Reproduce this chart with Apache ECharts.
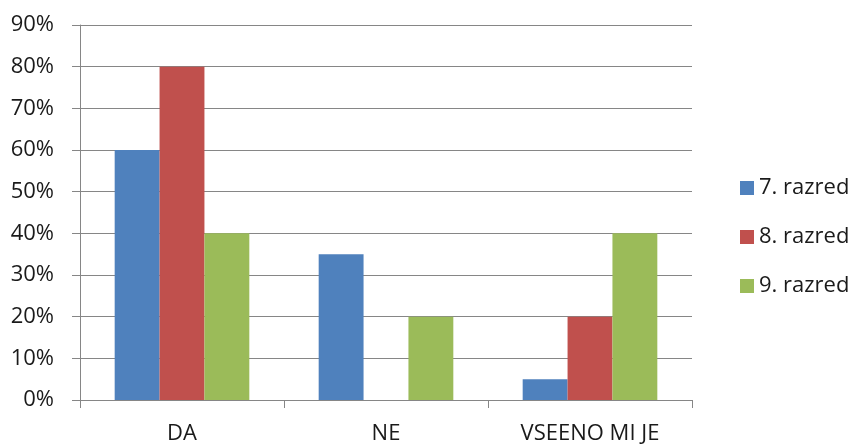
<!DOCTYPE html>
<html>
<head>
<meta charset="utf-8">
<script src="https://cdn.jsdelivr.net/npm/echarts@6/dist/echarts.min.js"></script>
<style>
  html, body { margin: 0; padding: 0; background: #fff; }
  #main { width: 853px; height: 445px; }
</style>
</head>
<body>
<div id="main"></div>
<script>
var categories = ['DA', 'NE', 'VSEENO MI JE'];
var seriesNames = ['7. razred', '8. razred', '9. razred'];
var razred7 = [60, 35, 5];
var razred8 = [80, 0, 20];
var razred9 = [40, 20, 40];
var colors = ['#4F81BD', '#C0504D', '#9BBB59'];

var font = '"Open Sans", "Liberation Sans", sans-serif';
var myChart = echarts.init(document.getElementById('main'));
var option = {
    animation: false,
    color: colors,
    textStyle: { fontFamily: font },
    grid: { left: 80, right: 161, top: 25, bottom: 45, containLabel: false },
    legend: {
        orient: 'vertical',
        left: 735,
        top: 172,
        itemWidth: 14,
        itemHeight: 14,
        itemGap: 27,
        icon: 'rect',
        textStyle: { fontSize: 22, lineHeight: 22, color: '#1a1a1a', fontFamily: font },
        data: seriesNames
    },
    xAxis: {
        type: 'category',
        data: categories,
        axisLine: { lineStyle: { color: '#868686' } },
        axisTick: { show: true, length: 8, lineStyle: { color: '#868686' } },
        axisLabel: { fontSize: 22, lineHeight: 22, color: '#1a1a1a', margin: 23 }
    },
    yAxis: {
        type: 'value',
        min: 0,
        max: 90,
        interval: 10,
        axisLine: { show: true, lineStyle: { color: '#868686' } },
        axisTick: { show: true, length: 8, lineStyle: { color: '#868686' } },
        axisLabel: { fontSize: 22, color: '#1a1a1a', margin: 26, formatter: '{value}%' },
        splitLine: { lineStyle: { color: '#868686' } }
    },
    series: [
        { name: seriesNames[0], type: 'bar', data: razred7, barGap: '0%', barCategoryGap: '34%' },
        { name: seriesNames[1], type: 'bar', data: razred8, barGap: '0%', barCategoryGap: '34%' },
        { name: seriesNames[2], type: 'bar', data: razred9, barGap: '0%', barCategoryGap: '34%' }
    ]
};
myChart.setOption(option);
</script>
</body>
</html>
